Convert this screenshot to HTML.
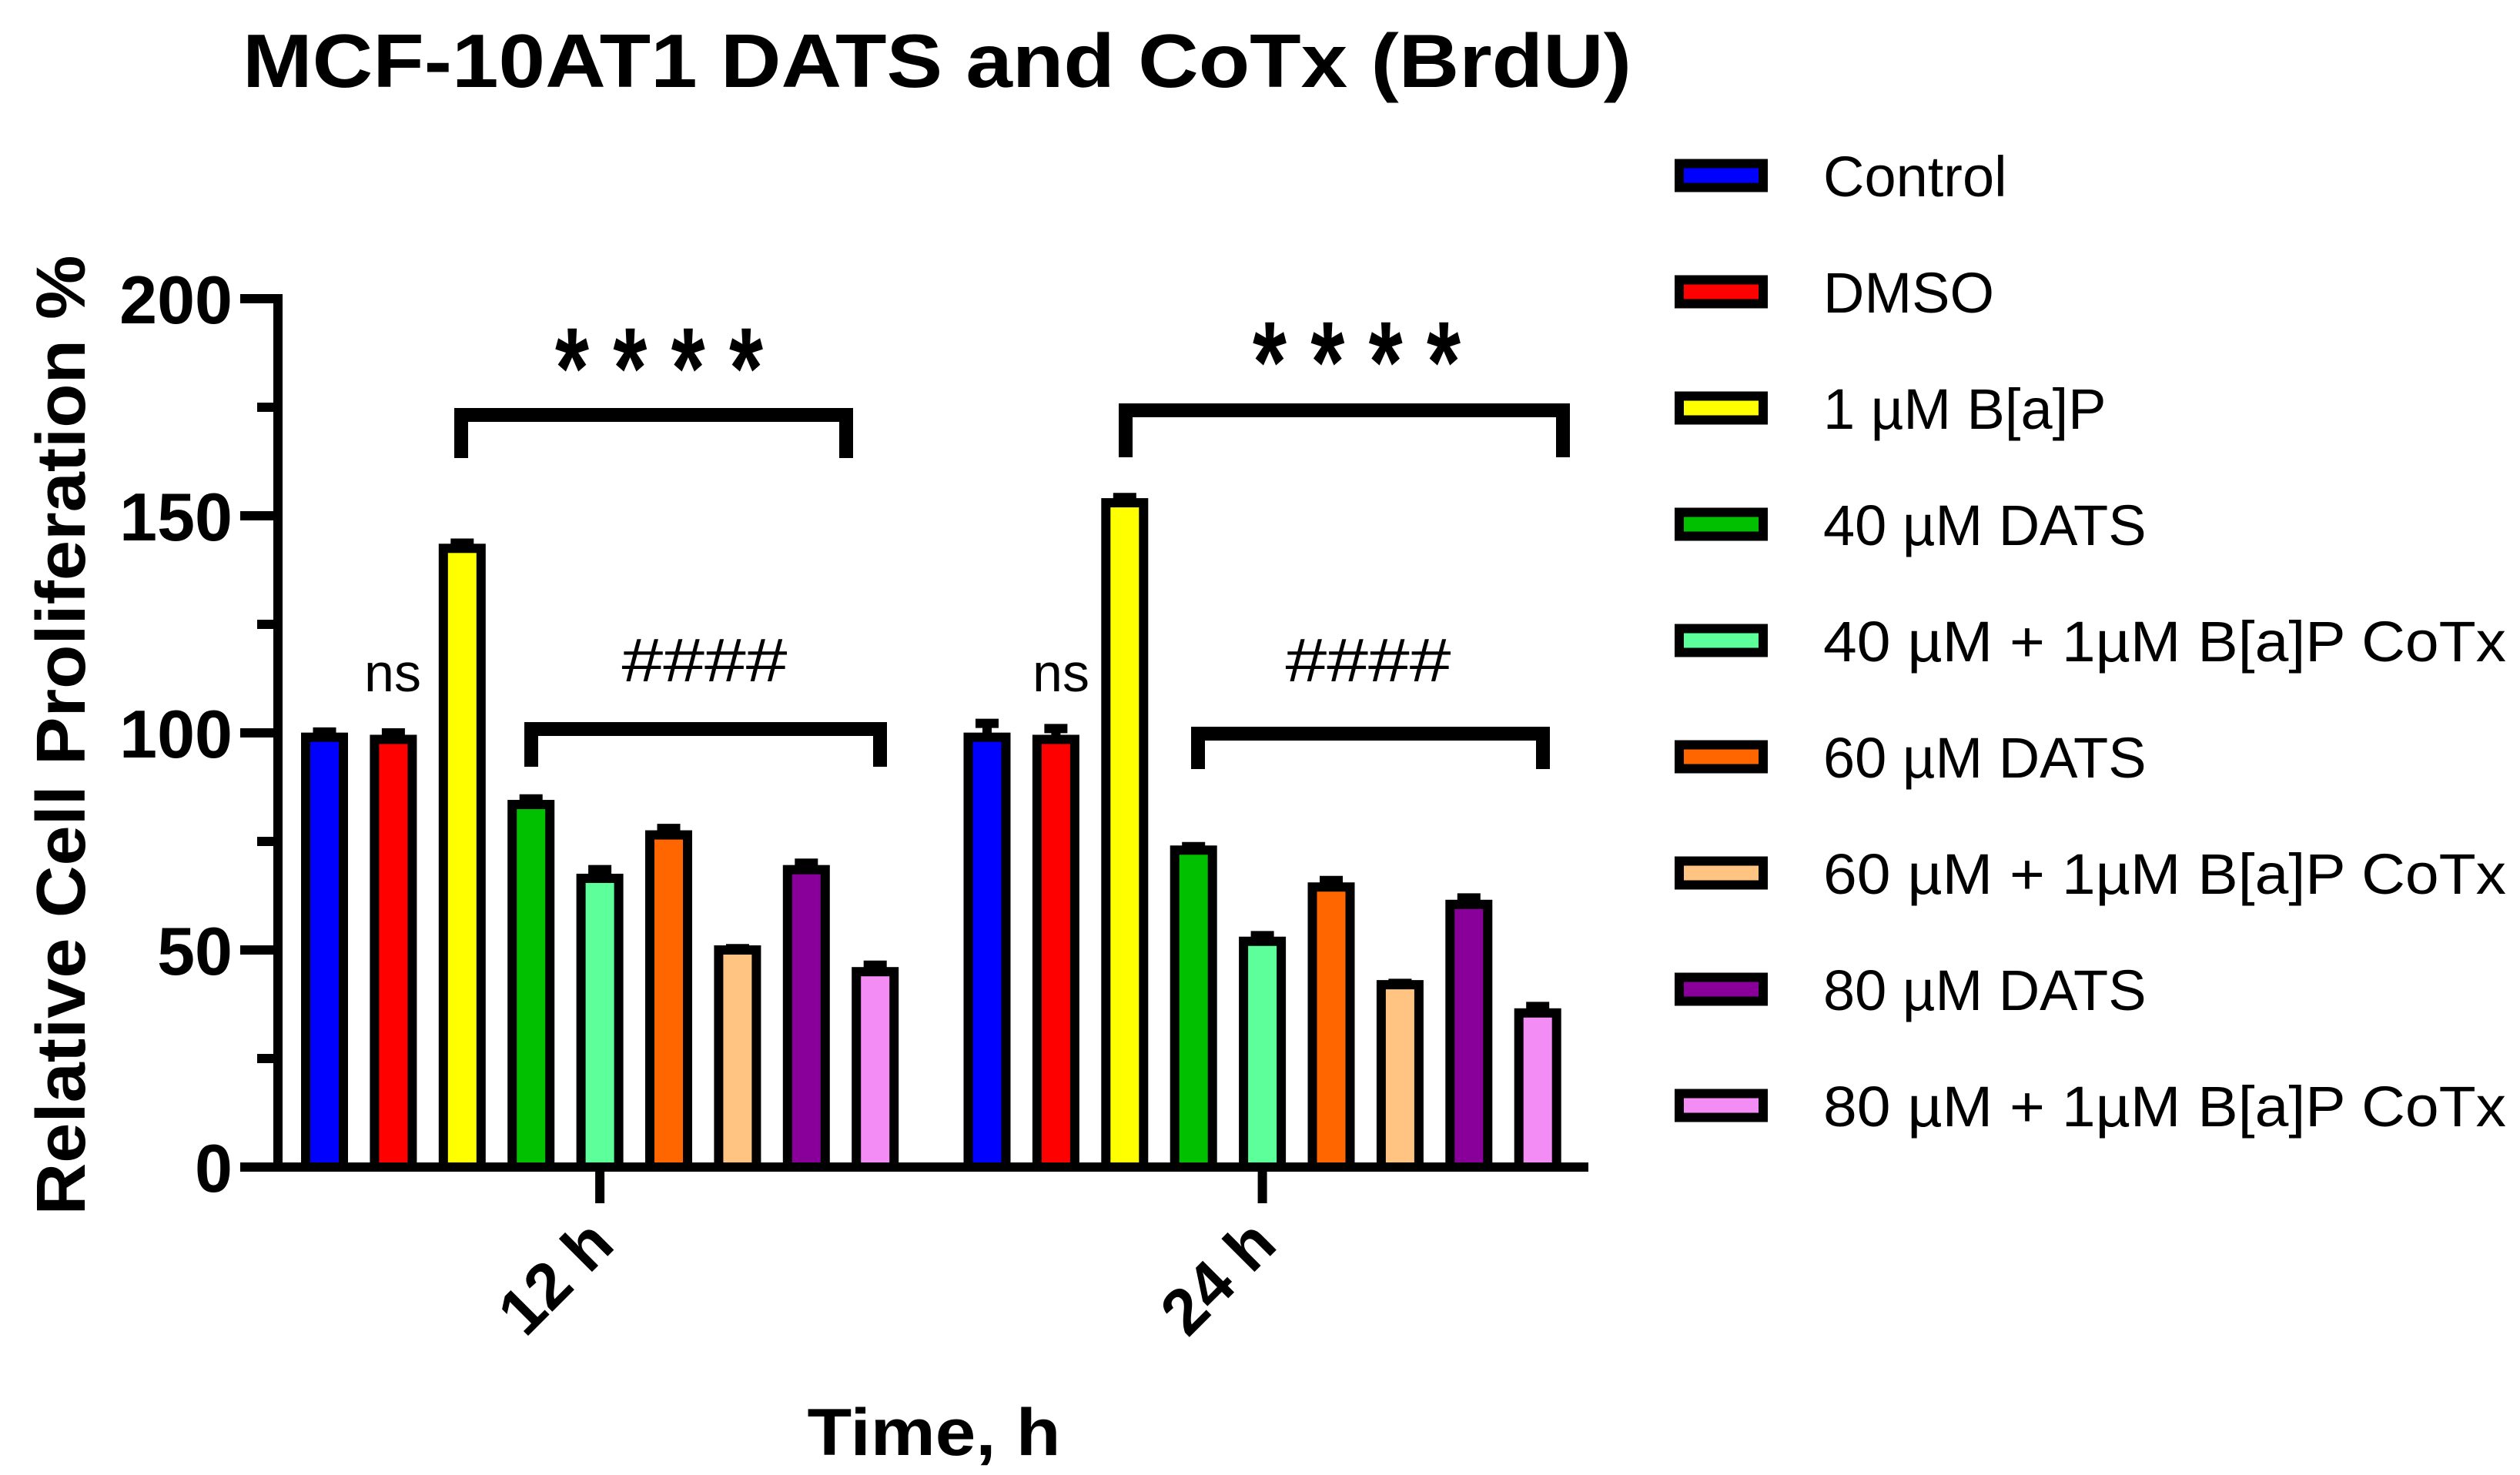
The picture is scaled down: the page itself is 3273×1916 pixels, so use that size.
<!DOCTYPE html>
<html><head><meta charset="utf-8"><style>
html,body{margin:0;padding:0;background:#fff}
svg{display:block;font-family:"Liberation Sans",Arial,sans-serif}
</style></head><body>
<svg id="chart" width="3273" height="1916" viewBox="0 0 3273 1916" xmlns="http://www.w3.org/2000/svg">
<text x="1217" y="113" font-size="98" font-weight="bold" text-anchor="middle" textLength="1804" lengthAdjust="spacingAndGlyphs">MCF-10AT1 DATS and CoTx (BrdU)</text>
<text transform="translate(110,955) rotate(-90)" font-size="90" font-weight="bold" text-anchor="middle" textLength="1247" lengthAdjust="spacingAndGlyphs">Relative Cell Proliferation %</text>
<text x="1213" y="1890" font-size="86" font-weight="bold" text-anchor="middle" textLength="329" lengthAdjust="spacingAndGlyphs">Time, h</text>
<g id="axes"></g>
<g id="bars"></g>
<g id="annot"></g>
<g id="legend"></g>
</svg>
<script>
const groups = ["12 h", "24 h"];
const seriesNames = ["Control","DMSO","1 µM B[a]P","40 µM DATS","40 µM + 1µM B[a]P CoTx","60 µM DATS","60 µM + 1µM B[a]P CoTx","80 µM DATS","80 µM + 1µM B[a]P CoTx"];
const seriesColors = ["#0000ff","#ff0000","#ffff00","#00c000","#5cff99","#ff6600","#ffc482","#880099","#f48cf5"];
const values12 = [99, 98.5, 142.5, 83.5, 66.5, 76.5, 50, 68.5, 45];
const errors12 = [1.2, 1.5, 1.2, 1.3, 2, 1.5, 0.3, 1.5, 1.5];
const values24 = [99, 98.5, 153, 73, 52, 64.5, 42, 60.5, 35.5];
const errors24 = [3.2, 2.5, 1.2, 0.8, 1.3, 1.5, 0.3, 1.5, 1.5];
const yTicks = [0, 50, 100, 150, 200];
const yMinorTicks = [25, 75, 125, 175];

const NS = "http://www.w3.org/2000/svg";
function mk(parent, tag, attrs){ const e=document.createElementNS(NS,tag); for(const k in attrs) e.setAttribute(k,attrs[k]); parent.appendChild(e); return e; }
const Y0 = 1516, PXU = 5.64;
function yScale(v){ return Y0 - v*PXU; }
const PITCH = 89.4;
const groupStart = [421.5, 1282];
function xScale(g,i){ return groupStart[g] + i*PITCH; }
const LW = 12;

const axes = document.getElementById('axes');
let yl = mk(axes,'line',{x1:361,y1:yScale(200)-6,x2:361,y2:Y0+6,stroke:'#000','stroke-width':LW});
 
let xl = mk(axes,'line',{x1:312,y1:Y0,x2:2063,y2:Y0,stroke:'#000','stroke-width':LW});
 
yTicks.forEach(v=>{
  const t = mk(axes,'line',{x1:312,y1:yScale(v),x2:361,y2:yScale(v),stroke:'#000','stroke-width':LW});
   
  const tx = mk(axes,'text',{x:302,y:yScale(v)+32,'font-size':88,'font-weight':'bold','text-anchor':'end'});
  tx.textContent = v;
   
});
yMinorTicks.forEach(v=>{
  const t = mk(axes,'line',{x1:334,y1:yScale(v),x2:361,y2:yScale(v),stroke:'#000','stroke-width':LW});
   
});
groups.forEach((g,gi)=>{
  const cx = xScale(gi,4);
  const t = mk(axes,'line',{x1:cx,y1:Y0,x2:cx,y2:1563,stroke:'#000','stroke-width':LW});
   
  const tx = mk(axes,'text',{transform:`translate(${cx+22},1620) rotate(-45)`,'font-size':84,'font-weight':'bold','text-anchor':'end'});
  tx.textContent = g;
   
});

const bars = document.getElementById('bars');
[values12, values24].forEach((vals,gi)=>{
  const errs = gi===0?errors12:errors24;
  vals.forEach((v,i)=>{
    const cx = xScale(gi,i), w = 61-LW;
    const top = yScale(v);
    const eb = mk(bars,'line',{x1:cx,y1:top,x2:cx,y2:yScale(v+errs[i]),stroke:'#000','stroke-width':LW});
     
    const cap = mk(bars,'line',{x1:cx-15,y1:yScale(v+errs[i]),x2:cx+15,y2:yScale(v+errs[i]),stroke:'#000','stroke-width':LW});
     
    const r = mk(bars,'rect',{x:cx-w/2,y:top,width:w,height:Y0-top,fill:seriesColors[i],stroke:'#000','stroke-width':LW});
     
  });
});

const annot = document.getElementById('annot');
function bracket(x1,x2,yTop,yBot,w,name){
  const p = mk(annot,'path',{d:`M${x1},${yBot} L${x1},${yTop+w/2} L${x2},${yTop+w/2} L${x2},${yBot}`,fill:'none',stroke:'#000','stroke-width':w,'stroke-linejoin':'miter'});
   
}
function label(x,y,txt,size,name,len,bold){
  const a = {x:x,y:y,'font-size':size,'text-anchor':'middle'};
  if(bold) a['font-weight']='bold';
  if(len){a.textLength=len; a.lengthAdjust='spacingAndGlyphs';}
  const t = mk(annot,'text',a); t.textContent = txt;
   
}
bracket(599, 1099, 530, 595, 18, 'significance-bracket-12h');
bracket(1462, 2030, 524, 594, 18, 'significance-bracket-24h');
bracket(690, 1143, 938, 996, 18, 'hash-bracket-12h');
bracket(1556, 2004, 944, 999, 18, 'hash-bracket-24h');
label(856, 530, '* * * *', 150, 'stars-label-12h', 270, true);
label(1762, 522, '* * * *', 150, 'stars-label-24h', 270, true);
label(915, 885, '####', 80, 'hash-label-12h', 215);
label(1777, 885, '####', 80, 'hash-label-24h', 215);
label(510, 898, 'ns', 70, 'ns-label-12h');
label(1378, 898, 'ns', 70, 'ns-label-24h');

const legend = document.getElementById('legend');
seriesNames.forEach((n,i)=>{
  const cy = 228 + i*151;
  const g = mk(legend,'g',{});
   
  const r = mk(g,'rect',{x:2181,y:cy-15.5,width:109,height:31,fill:seriesColors[i],stroke:'#000','stroke-width':12});
   
  const a = {x:2368,y:cy+27,'font-size':74};
  if(n.indexOf('CoTx')>=0){a.textLength=887; a.lengthAdjust='spacingAndGlyphs';}
  const t = mk(g,'text',a); t.textContent = n;
   
});
</script>
</body></html>
